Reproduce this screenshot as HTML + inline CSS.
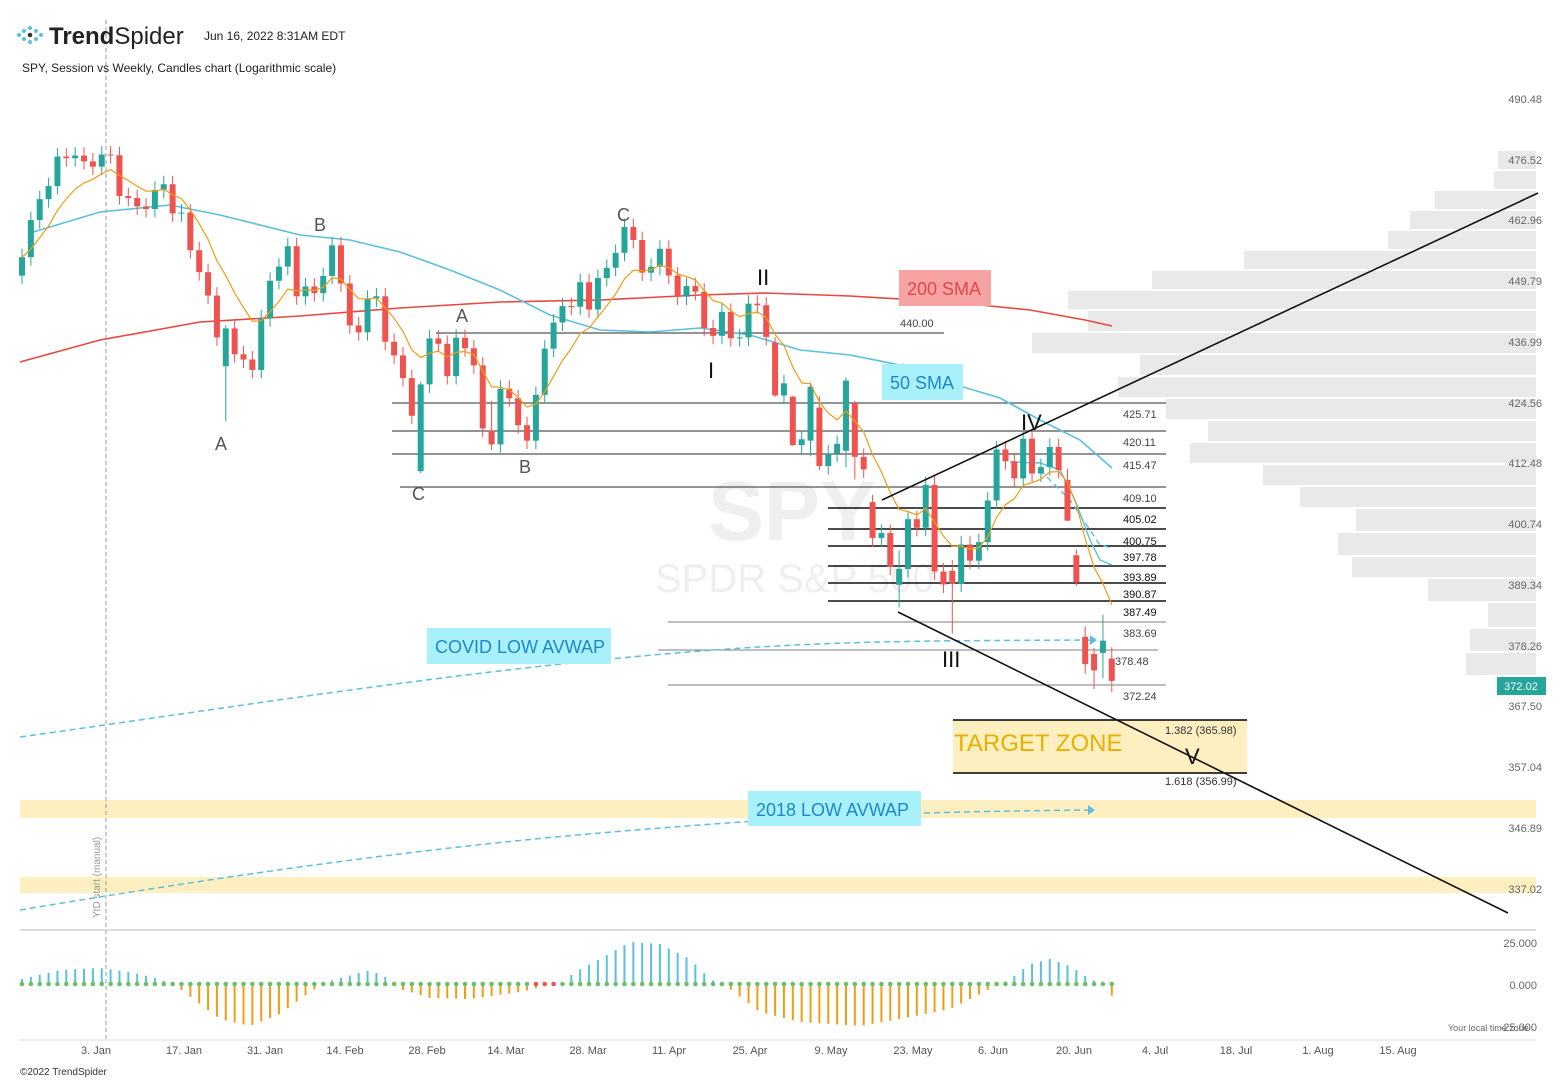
<!DOCTYPE html>
<html><head><meta charset="utf-8">
<style>
html,body{margin:0;padding:0;background:#fff;}
svg{display:block;font-family:"Liberation Sans",sans-serif;}
</style></head>
<body>
<svg id="s" width="1567" height="1081" viewBox="0 0 1567 1081" xmlns="http://www.w3.org/2000/svg">
<rect width="1567" height="1081" fill="#fff"/>
<g id="vp" fill="#e9e9e9"></g>
<rect x="20" y="800" width="1516" height="18" fill="#fdefc0"/>
<rect x="20" y="877" width="1516" height="16" fill="#fdefc0"/>
<text x="708" y="540" font-size="84" font-weight="bold" fill="#efefef">SPY</text>
<text x="655" y="592" font-size="40" fill="#efefef">SPDR S&amp;P 500</text>
<line x1="106" y1="20" x2="106" y2="1040" stroke="#999" stroke-dasharray="4,3" stroke-width="1"/>
<text transform="translate(100,918) rotate(-90)" font-size="10" fill="#999">YtD start (manual)</text>
<rect x="953" y="720" width="294" height="53" fill="#fdefc0"/>
<line x1="953" y1="720" x2="1247" y2="720" stroke="#000" stroke-width="1.5"/>
<line x1="953" y1="773" x2="1247" y2="773" stroke="#000" stroke-width="1.5"/>
<text x="954" y="751" font-size="24" fill="#e8b000">TARGET ZONE</text>
<text x="1165" y="734" font-size="11" fill="#333">1.382 (365.98)</text>
<text x="1165" y="785" font-size="11" fill="#333">1.618 (356.99)</text>
<text x="1185" y="764" font-size="22" fill="#111">V</text>
<g stroke="#555" stroke-width="1.2">
<line x1="436" y1="333" x2="944" y2="333"/>
<line x1="392" y1="403" x2="1166" y2="403"/>
<line x1="392" y1="431" x2="1166" y2="431"/>
<line x1="392" y1="454" x2="1166" y2="454"/>
<line x1="400" y1="487" x2="1166" y2="487"/>
</g>
<g stroke="#111" stroke-width="1.6">
<line x1="828" y1="508" x2="1166" y2="508"/>
<line x1="828" y1="529" x2="1166" y2="529"/>
<line x1="828" y1="546" x2="1166" y2="546"/>
<line x1="828" y1="566" x2="1166" y2="566"/>
<line x1="828" y1="583" x2="1166" y2="583"/>
<line x1="828" y1="601" x2="1166" y2="601"/>
</g>
<g stroke="#555" stroke-width="0.8">
<line x1="668" y1="622" x2="1166" y2="622"/>
<line x1="658" y1="650" x2="1158" y2="650"/>
<line x1="668" y1="685" x2="1166" y2="685"/>
</g>
<g font-size="11" fill="#444">
<text x="900" y="327">440.00</text>
<text x="1123" y="418">425.71</text>
<text x="1123" y="446">420.11</text>
<text x="1123" y="469">415.47</text>
<text x="1123" y="502">409.10</text>
<text x="1123" y="523" fill="#111">405.02</text>
<text x="1123" y="545" fill="#111">400.75</text>
<text x="1123" y="561" fill="#111">397.78</text>
<text x="1123" y="581" fill="#111">393.89</text>
<text x="1123" y="598" fill="#111">390.87</text>
<text x="1123" y="616" fill="#111">387.49</text>
<text x="1123" y="637">383.69</text>
<text x="1115" y="665">378.48</text>
<text x="1123" y="700">372.24</text>
</g>
<path d="M20,737 C200,712 400,680 600,660 S900,641 1090,640" fill="none" stroke="#5bc0de" stroke-width="1.5" stroke-dasharray="6,4"/>
<path d="M20,910 C200,880 400,850 600,833 S900,812 1090,810" fill="none" stroke="#5bc0de" stroke-width="1.5" stroke-dasharray="6,4"/>
<path d="M1090,635 l7,5 l-7,5z M1088,805 l7,5 l-7,5z" fill="#5bc0de"/>
<polyline fill="none" stroke="#e8473f" stroke-width="1.6" points="20,362 100,340 200,322 300,316 400,308 500,302 600,300 700,295 765,293 850,296 950,302 1030,310 1085,320 1112,326"/>
<polyline fill="none" stroke="#5bc0de" stroke-width="1.6" points="30,233 100,212 170,205 220,215 300,235 350,240 400,252 450,270 500,290 550,315 600,330 650,332 700,328 750,335 800,350 850,355 900,365 950,383 1000,398 1040,420 1080,440 1112,468"/>
<polyline fill="none" stroke="#5bc0de" stroke-width="1.4" points="1010,462 1040,463 1060,470 1075,500 1090,540 1100,560 1112,565"/>
<polyline fill="none" stroke="#5bc0de" stroke-width="1.4" stroke-dasharray="6,4" points="1040,470 1070,500 1090,530 1100,545 1112,548"/>
<g id="candles"></g>
<polyline id="ema" fill="none" stroke="#f39c12" stroke-width="1.2"/>
<line x1="898" y1="612" x2="1508" y2="913" stroke="#111" stroke-width="1.6"/>
<line x1="882" y1="500" x2="1538" y2="193" stroke="#111" stroke-width="1.6"/>
<rect x="899" y="270" width="92" height="36" fill="#f7a3a3"/>
<text x="907" y="295" font-size="18" fill="#e04848">200 SMA</text>
<rect x="882" y="364" width="81" height="36" fill="#a8f0fa"/>
<text x="890" y="389" font-size="18" fill="#1e88c8">50 SMA</text>
<rect x="427" y="628" width="184" height="36" fill="#a8f0fa"/>
<text x="435" y="653" font-size="18" fill="#1e88c8">COVID LOW AVWAP</text>
<rect x="748" y="791" width="173" height="35" fill="#a8f0fa"/>
<text x="756" y="816" font-size="18" fill="#1e88c8">2018 LOW AVWAP</text>
<g font-size="18" fill="#555">
<text x="215" y="450">A</text><text x="314" y="231">B</text>
<text x="456" y="322">A</text><text x="412" y="500">C</text>
<text x="519" y="473">B</text><text x="617" y="221">C</text>
</g>
<g font-size="22" fill="#111">
<text x="757" y="285">II</text><text x="708" y="378">I</text>
<text x="942" y="667">III</text><text x="1021" y="430">IV</text>
</g>
<g font-size="11" fill="#666" text-anchor="end">
<text x="1542" y="103">490.48</text><text x="1542" y="164">476.52</text>
<text x="1542" y="224">462.96</text><text x="1542" y="285">449.79</text>
<text x="1542" y="346">436.99</text><text x="1542" y="407">424.56</text>
<text x="1542" y="467">412.48</text><text x="1542" y="528">400.74</text>
<text x="1542" y="589">389.34</text><text x="1542" y="650">378.26</text>
<text x="1542" y="710">367.50</text><text x="1542" y="771">357.04</text>
<text x="1542" y="832">346.89</text><text x="1542" y="893">337.02</text>
<text x="1537" y="947">25.000</text><text x="1537" y="989">0.000</text>
<text x="1537" y="1031">-25.000</text>
</g>
<rect x="1497" y="677" width="49" height="18" fill="#26a69a"/>
<text x="1521" y="690" font-size="11" fill="#fff" text-anchor="middle">372.02</text>
<text x="1448" y="1031" font-size="9" fill="#666">Your local time zone</text>
<line x1="20" y1="930" x2="1536" y2="930" stroke="#bbb"/>
<line x1="20" y1="1040" x2="1536" y2="1040" stroke="#ddd"/>
<g id="osc"></g>
<g font-size="11" fill="#555" text-anchor="middle">
<text x="96" y="1054">3. Jan</text><text x="184" y="1054">17. Jan</text>
<text x="265" y="1054">31. Jan</text><text x="345" y="1054">14. Feb</text>
<text x="427" y="1054">28. Feb</text><text x="506" y="1054">14. Mar</text>
<text x="588" y="1054">28. Mar</text><text x="669" y="1054">11. Apr</text>
<text x="750" y="1054">25. Apr</text><text x="831" y="1054">9. May</text>
<text x="913" y="1054">23. May</text><text x="993" y="1054">6. Jun</text>
<text x="1074" y="1054">20. Jun</text><text x="1155" y="1054">4. Jul</text>
<text x="1236" y="1054">18. Jul</text><text x="1318" y="1054">1. Aug</text>
<text x="1398" y="1054">15. Aug</text>
</g>
<text x="20" y="1075" font-size="10" fill="#333">©2022 TrendSpider</text>
<g fill="#5bc0de">
<circle cx="24" cy="31" r="2"/><circle cx="30" cy="28" r="2"/><circle cx="36" cy="31" r="2"/>
<circle cx="24" cy="39" r="2"/><circle cx="30" cy="42" r="2"/><circle cx="36" cy="39" r="2"/>
<circle cx="30" cy="35" r="2.3" fill="#333"/><circle cx="41" cy="35" r="2"/><circle cx="19" cy="35" r="2"/>
</g>
<text x="49" y="44" font-size="24" fill="#222"><tspan font-weight="bold">Trend</tspan>Spider</text>
<text x="204" y="40" font-size="12" fill="#222">Jun 16, 2022 8:31AM EDT</text>
<text x="22" y="72" font-size="12" fill="#222">SPY, Session vs Weekly, Candles chart (Logarithmic scale)</text>
</svg>
<script>
(function(){
var NS="http://www.w3.org/2000/svg";
function el(t,a,p){var e=document.createElementNS(NS,t);for(var k in a)e.setAttribute(k,a[k]);p.appendChild(e);return e;}
function Y(p){return 99+Math.log(490.48/p)*2105;}
var C=[454.98,463.06,467.69,470.6,477.26,476.87,477.48,476.16,474.96,
477.71,477.55,468.38,467.94,466.09,465.51,469.75,471.02,464.53,464.72,456.49,451.75,446.75,437.98,439.84,434.47,433.38,431.24,441.95,449.91,
452.95,457.35,446.6,448.7,447.26,450.94,457.54,449.32,440.46,439.02,446.1,446.6,437.06,434.23,429.57,421.95,428.3,437.75,436.63,
429.98,437.89,435.71,432.17,419.43,416.25,427.41,425.48,420.07,417.0,426.17,435.62,441.07,444.52,444.39,449.59,443.8,450.49,452.69,455.91,461.55,458.7,451.64,
452.92,456.8,451.03,446.52,448.77,447.57,439.92,438.29,443.31,437.79,437.97,445.04,444.71,438.06,426.04,428.51,416.1,417.27,427.81,412.0,
414.48,416.38,429.06,413.81,411.34,398.17,399.09,392.75,392.34,401.72,400.09,408.32,391.86,389.46,389.63,396.92,393.89,397.37,405.31,415.26,412.93,
409.59,417.39,410.54,411.79,415.74,411.22,401.44,389.8,375.0,373.87,379.2,372.02];
var ov={23:[432,440.5,420.8],45:[411,428.8,410.6],53:[419,425,415.1],85:[436.9,438,425.8],87:[425.8,426,416],89:[417,428.7,413.9],90:[423.6,425.9,411.2],
93:[415,429.7,411.8],94:[424.5,425,409.4],96:[405,406.4,396.5],99:[389.4,395.8,385.2],105:[392,394,380.5],
118:[409.3,411.5,401.4],119:[394.9,396,389.2],120:[379.9,381.8,373.3],121:[376.8,377.9,370.6],122:[377,383.9,372.5],123:[376,378,370]};
var g=document.getElementById("candles"),x0=22,st=8.86,pts=[],e=C[0],k=2/9;
for(var i=0;i<C.length;i++){
 var c=C[i],o=i?C[i-1]:451,h,l;
 if(ov[i]){o=ov[i][0];h=ov[i][1];l=ov[i][2];}
 else{h=Math.max(o,c)*1.004;l=Math.min(o,c)*0.996;}
 var x=x0+i*st,up=c>=o,col=up?"#26a69a":"#ef5350";
 el("line",{x1:x,x2:x,y1:Y(h),y2:Y(l),stroke:col,"stroke-width":1},g);
 var t=Y(Math.max(o,c)),b=Y(Math.min(o,c));
 el("rect",{x:x-3,y:t,width:6,height:Math.max(1,b-t),fill:col},g);
 e=i?c*k+e*(1-k):c;pts.push(x.toFixed(1)+","+Y(e).toFixed(1));
}
document.getElementById("ema").setAttribute("points",pts.join(" "));
var vp=[[150,1498],[170,1494],[190,1435],[210,1410],[230,1388],[250,1244],[270,1152],[290,1068],[310,1088],[332,1032],[354,1140],[376,1118],[398,1166],[420,1208],[442,1190],[464,1263],[486,1300],[508,1356],[532,1338],[556,1352],[578,1428],[602,1488],[628,1470],[652,1466]];
var vg=document.getElementById("vp");
for(var j=0;j<vp.length;j++){var y1=vp[j][0],y2=j+1<vp.length?vp[j+1][0]:676;
 el("rect",{x:vp[j][1],y:y1+1,width:1536-vp[j][1],height:y2-y1-2},vg);}
var kf=[[22,5],[60,14],[100,16],[130,12],[160,5],[180,-5],[220,-35],[250,-42],[280,-30],[310,-8],[330,3],[370,14],[390,5],[400,-5],[430,-14],[470,-15],[520,-8],[545,-2],[560,0],[575,12],[600,25],[630,42],[660,40],[690,25],[710,5],[730,-5],[760,-28],[800,-38],[860,-42],[900,-35],[950,-25],[990,-5],[1010,5],[1030,20],[1050,25],[1070,18],[1090,5],[1105,0],[1112,-12]];
function val(x){for(var m=0;m<kf.length-1;m++){if(x>=kf[m][0]&&x<=kf[m+1][0]){var f=(x-kf[m][0])/(kf[m+1][0]-kf[m][0]);return kf[m][1]+f*(kf[m+1][1]-kf[m][1]);}}return 0;}
var og=document.getElementById("osc"),z=984;
for(var i=0;i<C.length;i++){var x=x0+i*st,v=val(x);
 if(Math.abs(v)>1.5)el("line",{x1:x,x2:x,y1:z,y2:z-v,stroke:v>0?"#5bc0de":"#f39c12","stroke-width":2},og);
 el("circle",{cx:x,cy:z,r:2.3,fill:(x>535&&x<562)?"#ef5350":"#6abf69"},og);}
})();
</script>
</body></html>
